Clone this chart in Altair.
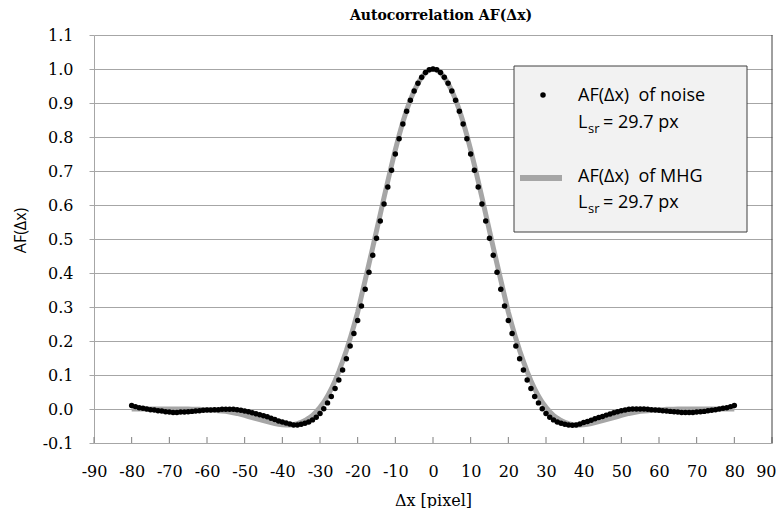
import altair as alt
import pandas as pd

# ---- data ----
x_vals = list(range(-80, 81))

noise_af = [
    0.010, 0.007, 0.004, 0.002, 0.000, -0.002, -0.003, -0.005, -0.006, -0.008,
    -0.009, -0.010, -0.010, -0.009, -0.009, -0.008, -0.007, -0.006, -0.005, -0.004,
    -0.003, -0.003, -0.002, -0.002, -0.001, -0.001, -0.001, -0.001, -0.002, -0.004,
    -0.006, -0.008, -0.011, -0.014, -0.017, -0.020, -0.023, -0.027, -0.031, -0.035,
    -0.038, -0.041, -0.044, -0.047,
    -0.047, -0.045, -0.042, -0.038, -0.032, -0.024, -0.013, 0.001, 0.018, 0.037,
    0.060, 0.085, 0.115, 0.148, 0.185, 0.222, 0.260, 0.303, 0.352, 0.402,
    0.452, 0.502, 0.553, 0.603, 0.653, 0.702, 0.750, 0.795, 0.838, 0.876,
    0.908, 0.935, 0.958, 0.976, 0.990, 0.998, 1.000, 0.998, 0.990, 0.976,
    0.958, 0.935, 0.908, 0.876, 0.838, 0.795, 0.750, 0.702, 0.653, 0.603,
    0.553, 0.502, 0.452, 0.402, 0.352, 0.303, 0.260, 0.222, 0.185, 0.148,
    0.115, 0.085, 0.060, 0.037, 0.018, 0.001, -0.013, -0.024, -0.032, -0.038,
    -0.042, -0.045, -0.047,
    -0.048, -0.047, -0.044, -0.040, -0.037, -0.033, -0.029, -0.025, -0.022, -0.018,
    -0.015, -0.011, -0.008, -0.005, -0.003, -0.001, 0.000, 0.000, 0.000, 0.000,
    -0.001, -0.002, -0.003, -0.004, -0.005, -0.006, -0.007, -0.008, -0.009, -0.010,
    -0.010, -0.010, -0.010, -0.009, -0.008, -0.007, -0.005, -0.004, -0.002, 0.000,
    0.002, 0.004, 0.007, 0.010,
]

mhg_af = [
    0.000, 0.000, 0.000, 0.000, 0.000, 0.000, 0.000, 0.000, 0.000, 0.000,
    0.000, 0.000, 0.000, 0.000, 0.000, 0.000, -0.001, -0.001, -0.001, -0.002,
    -0.002, -0.003, -0.004, -0.005, -0.006, -0.007, -0.009, -0.011, -0.013, -0.016,
    -0.019, -0.022, -0.025, -0.028, -0.031, -0.034, -0.037, -0.040, -0.043, -0.045,
    -0.046, -0.047, -0.047, -0.046, -0.043, -0.039, -0.034, -0.027, -0.019, -0.008,
    0.005, 0.020, 0.038, 0.059, 0.083, 0.110, 0.140, 0.172, 0.207, 0.245,
    0.285, 0.332, 0.379, 0.427, 0.475, 0.524, 0.573, 0.622, 0.670, 0.717,
    0.762, 0.805, 0.844, 0.879, 0.910, 0.936, 0.958, 0.976, 0.989, 0.997,
    1.000,
    0.997, 0.989, 0.976, 0.958, 0.936, 0.910, 0.879, 0.844, 0.805, 0.762,
    0.717, 0.670, 0.622, 0.573, 0.524, 0.475, 0.427, 0.379, 0.332, 0.285,
    0.245, 0.207, 0.172, 0.140, 0.110, 0.083, 0.059, 0.038, 0.020, 0.005,
    -0.008, -0.019, -0.027, -0.034, -0.039, -0.043, -0.046, -0.047, -0.047, -0.046,
    -0.045, -0.043, -0.040, -0.037, -0.034, -0.031, -0.028, -0.025, -0.022, -0.019,
    -0.016, -0.013, -0.011, -0.009, -0.007, -0.006, -0.005, -0.004, -0.003, -0.002,
    -0.002, -0.001, -0.001, -0.001, 0.000, 0.000, 0.000, 0.000, 0.000, 0.000,
    0.000, 0.000, 0.000, 0.000, 0.000, 0.000, 0.000, 0.000, 0.000, 0.000,
]

x_ticks = [-90, -80, -70, -60, -50, -40, -30, -20, -10, 0, 10, 20, 30, 40, 50, 60, 70, 80, 90]
y_ticks = [-0.1, 0.0, 0.1, 0.2, 0.3, 0.4, 0.5, 0.6, 0.7, 0.8, 0.9, 1.0, 1.1]

title_text = "Autocorrelation AF(Δx)"
x_title = "Δx [pixel]"
y_title = "AF(Δx)"
legend_noise = "AF(Δx)\u00a0 of noise"
legend_mhg = "AF(Δx)\u00a0 of MHG"
lsr_value = "= 29.7 px"

df = pd.DataFrame({"dx": x_vals, "noise": noise_af, "mhg": mhg_af})
tick_df = pd.DataFrame({"dx": x_ticks})
one = pd.DataFrame({"a": [0]})

W, H = 678, 408
GRID = "#a6a6a6"
SERIF = "DejaVu Serif"
SANS = "Open Sans"

xs = alt.Scale(domain=[-90, 90], nice=False, zero=False)
ys = alt.Scale(domain=[-0.1, 1.1], nice=False, zero=False)

x_axis = alt.Axis(
    values=x_ticks,
    labelExpr="(datum.value < 0 ? '-' : '') + format(abs(datum.value), 'd')",
    grid=False, ticks=False, domainColor=GRID,
    labelFont=SERIF, labelFontSize=16, labelColor="black", labelPadding=20,
    labelFlush=False, labelOverlap=False,
    labelAlign={"condition": {"test": "datum.value >= 90", "value": "right"}, "value": "center"},
    labelOffset={"condition": {"test": "datum.value >= 90", "value": 4}, "value": 0},
    titleFont=SERIF, titleFontSize=16, titleFontWeight="normal", titleColor="black",
    titleY=57, titleBaseline="middle",
)
y_axis = alt.Axis(
    values=y_ticks,
    labelExpr="(datum.value < 0 ? '-' : '') + format(abs(datum.value), '.1f')",
    grid=True, gridColor=GRID, gridWidth=1,
    tickColor=GRID, tickSize=5, domainColor=GRID,
    labelFont=SERIF, labelFontSize=16, labelColor="black", labelPadding=16,
    labelFlush=False, labelOverlap=False,
    titleFont=SANS, titleFontSize=16, titleFontWeight="normal", titleColor="black",
    titleAngle=270, titleX=-74, titleY=195, titleAlign="center", titleBaseline="middle",
)

line = alt.Chart(df).mark_line(color=GRID, strokeWidth=5).encode(
    x=alt.X("dx:Q", scale=xs, axis=x_axis, title=x_title),
    y=alt.Y("mhg:Q", scale=ys, axis=y_axis, title=y_title),
)
pts = alt.Chart(df).mark_circle(color="black", size=30, opacity=1).encode(
    x=alt.X("dx:Q", scale=xs, axis=x_axis, title=x_title),
    y=alt.Y("noise:Q", scale=ys, axis=y_axis, title=y_title),
)
ticks = alt.Chart(tick_df).mark_rule(color="#7f7f7f").encode(
    x=alt.X("dx:Q", scale=xs, axis=x_axis, title=x_title),
    y=alt.value(H - 6), y2=alt.value(H),
)
right_border = alt.Chart(one).mark_rule(color="#404040").encode(
    x=alt.value(W), y=alt.value(0), y2=alt.value(H)
)

# legend box
box = alt.Chart(one).mark_rect(fill="#f2f2f2", stroke="#404040", strokeWidth=1).encode(
    x=alt.value(420), x2=alt.value(653), y=alt.value(31), y2=alt.value(197)
)
leg_dot = alt.Chart(one).mark_circle(color="black", size=30, opacity=1).encode(
    x=alt.value(449), y=alt.value(60)
)
leg_line = alt.Chart(one).mark_rule(color=GRID, strokeWidth=6).encode(
    x=alt.value(426), x2=alt.value(468), y=alt.value(143)
)


def txt(s, x, y, size=18):
    return alt.Chart(one).mark_text(
        align="left", baseline="middle", font=SANS, fontSize=size, color="black"
    ).encode(x=alt.value(x), y=alt.value(y), text=alt.value(s))


legend_layers = [
    box, leg_dot, leg_line,
    txt(legend_noise, 484, 61),
    txt("L", 484, 88), txt("sr", 494, 94, 13), txt(lsr_value, 509, 88),
    txt(legend_mhg, 484, 142),
    txt("L", 484, 168), txt("sr", 494, 174, 13), txt(lsr_value, 509, 168),
]

chart = alt.layer(line, pts, ticks, right_border, *legend_layers).properties(
    width=W, height=H,
    autosize=alt.AutoSizeParams(type="none"),
    padding={"left": 86, "top": 27, "right": 4, "bottom": 65},
    title=alt.TitleParams(
        title_text, font=SERIF, fontSize=14, fontWeight="bold", color="black",
        offset=4, dx=8, anchor="middle",
    ),
).configure_view(stroke=None).configure_axis(labelOverlap=False)

chart.save("out.html", embed_options={"renderer": "svg", "actions": False})
